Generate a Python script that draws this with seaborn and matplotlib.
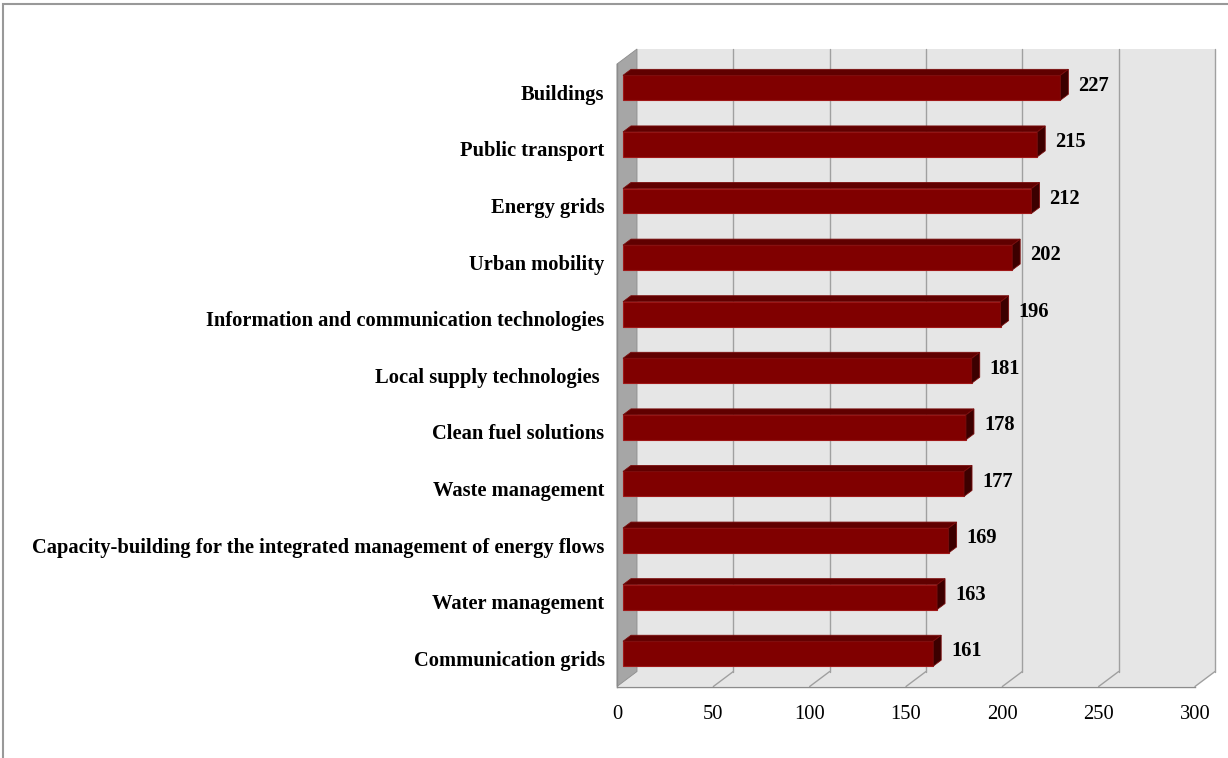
import numpy as np
import pandas as pd
import matplotlib
matplotlib.use("Agg")
import matplotlib.pyplot as plt
from matplotlib.patches import Polygon, Rectangle
from matplotlib.transforms import IdentityTransform, ScaledTranslation
from matplotlib.lines import Line2D
import seaborn as sns

categories = [
    "Buildings",
    "Public transport",
    "Energy grids",
    "Urban mobility",
    "Information and communication technologies",
    "Local supply technologies ",
    "Clean fuel solutions",
    "Waste management",
    "Capacity-building for the integrated management of energy flows",
    "Water management",
    "Communication grids",
]
counts = [227, 215, 212, 202, 196, 181, 178, 177, 169, 163, 161]
x_ticks = [0, 50, 100, 150, 200, 250, 300]

df = pd.DataFrame({"category": categories, "count": counts})

sns.set_style("white")
plt.rcParams["font.family"] = ["Liberation Serif", "DejaVu Serif"]

W, H, DPI = 1228, 758, 100
FS = 14.8
fig = plt.figure(figsize=(W / DPI, H / DPI), dpi=DPI)

# front plane of the pseudo-3D plot area (pixel geometry)
left_px, right_px = 617, 1195
top_px, bottom_px = 64, 686.5
ax = fig.add_axes([left_px / W, 1 - bottom_px / H,
                   (right_px - left_px) / W, (bottom_px - top_px) / H])

DEPTH = np.array([20.0, 15.0])      # back-wall offset in pixels (right, up)
BAR_FRONT, BAR_BACK = 0.3, 0.7      # bar depth range as fraction of DEPTH
BAR_W = 0.44

n = len(categories)
ax.set_xlim(0, 300)
ax.set_ylim(n - 0.5, -0.5)

sns.barplot(data=df, x="count", y="category", orient="h", ax=ax,
            color="#800000", width=BAR_W, saturation=1,
            edgecolor="#a01818", linewidth=0.8, zorder=5)
ax.set_xlim(0, 300)
ax.set_ylim(n - 0.5, -0.5)

ident = IdentityTransform()


def proj(x, y, d):
    p = ax.transData.transform((x, y))
    return p + d * DEPTH


def poly(points, **kw):
    p = Polygon(np.array(points), closed=True, transform=ident, **kw)
    p.set_clip_on(False)
    ax.add_artist(p)
    return p


def line(p0, p1, **kw):
    l = Line2D([p0[0], p1[0]], [p0[1], p1[1]], transform=ident, **kw)
    l.set_clip_on(False)
    ax.add_artist(l)


grid_c = "#a0a0a0"
y_top, y_bot = -0.5, n - 0.5

# back wall
poly([proj(0, y_top, 1), proj(300, y_top, 1), proj(300, y_bot, 1), proj(0, y_bot, 1)],
     facecolor="#e6e6e6", edgecolor="none", zorder=0.5)
# floor
poly([proj(0, y_bot, 0), proj(300, y_bot, 0), proj(300, y_bot, 1), proj(0, y_bot, 1)],
     facecolor="#e6e6e6", edgecolor="none", zorder=0.5)
# gridlines on back wall and floor
for xv in x_ticks[1:]:
    line(proj(xv, y_top, 1), proj(xv, y_bot, 1), color=grid_c, lw=1.0, zorder=0.6)
    line(proj(xv, y_bot, 0), proj(xv, y_bot, 1), color=grid_c, lw=1.0, zorder=0.6)
# side wall
poly([proj(0, y_top, 0), proj(0, y_top, 1), proj(0, y_bot, 1), proj(0, y_bot, 0)],
     facecolor="#a6a6a6", edgecolor="#8c8c8c", linewidth=0.6, zorder=0.7)

# shift seaborn's bars into the middle of the depth and add top/side faces
shift = ScaledTranslation(BAR_FRONT * DEPTH[0] / DPI, BAR_FRONT * DEPTH[1] / DPI,
                          fig.dpi_scale_trans)
for bar in list(ax.patches):
    if isinstance(bar, Polygon):
        continue
    bar.set_transform(ax.transData + shift)
    bar.set_clip_on(False)
    x0, y0 = bar.get_x(), bar.get_y()
    w, h = bar.get_width(), bar.get_height()
    ya, yb = min(y0, y0 + h), max(y0, y0 + h)
    poly([proj(x0, ya, BAR_FRONT), proj(x0 + w, ya, BAR_FRONT),
          proj(x0 + w, ya, BAR_BACK), proj(x0, ya, BAR_BACK)],
         facecolor="#600000", edgecolor="#7a0d0d", linewidth=0.6, zorder=6)
    poly([proj(x0 + w, ya, BAR_FRONT), proj(x0 + w, yb, BAR_FRONT),
          proj(x0 + w, yb, BAR_BACK), proj(x0 + w, ya, BAR_BACK)],
         facecolor="#3c0000", edgecolor="#7a0d0d", linewidth=0.6, zorder=6)

# value labels at the bar ends
for i, v in enumerate(counts):
    px = proj(v, i, 0.45)
    t = ax.text(px[0] + 15, px[1], str(v), transform=ident, ha="left", va="center",
                fontsize=FS, fontweight="bold", color="black", zorder=10)
    t.set_clip_on(False)

# axes styling
ax.set_facecolor("none")
for s in ["top", "right"]:
    ax.spines[s].set_visible(False)
for s in ["left", "bottom"]:
    ax.spines[s].set_color("#8c8c8c")
    ax.spines[s].set_linewidth(1.0)
    ax.spines[s].set_zorder(7)

ax.set_xticks(x_ticks)
ax.set_xticklabels([str(t) for t in x_ticks])
ax.tick_params(axis="x", length=6, width=1, color="#8c8c8c", pad=7,
               labelsize=FS, labelcolor="black")

ax.set_yticks(range(n))
ax.set_yticklabels(categories, fontweight="bold")
ax.set_yticks(np.arange(-0.5, n, 1.0), minor=True)
ax.tick_params(axis="y", which="major", length=0, pad=9, labelsize=FS,
               labelcolor="black")
ax.tick_params(axis="y", which="minor", length=6, width=1, color="#8c8c8c")
ax.set_xlabel("")
ax.set_ylabel("")
ax.grid(False)

# chart border
fig.add_artist(Rectangle((3 / W, -0.1), 1.2, 1.1 - 4 / H,
                         transform=fig.transFigure, fill=False,
                         edgecolor="#999999", linewidth=1.5))

fig.savefig("out.png", dpi=DPI, facecolor="white")
